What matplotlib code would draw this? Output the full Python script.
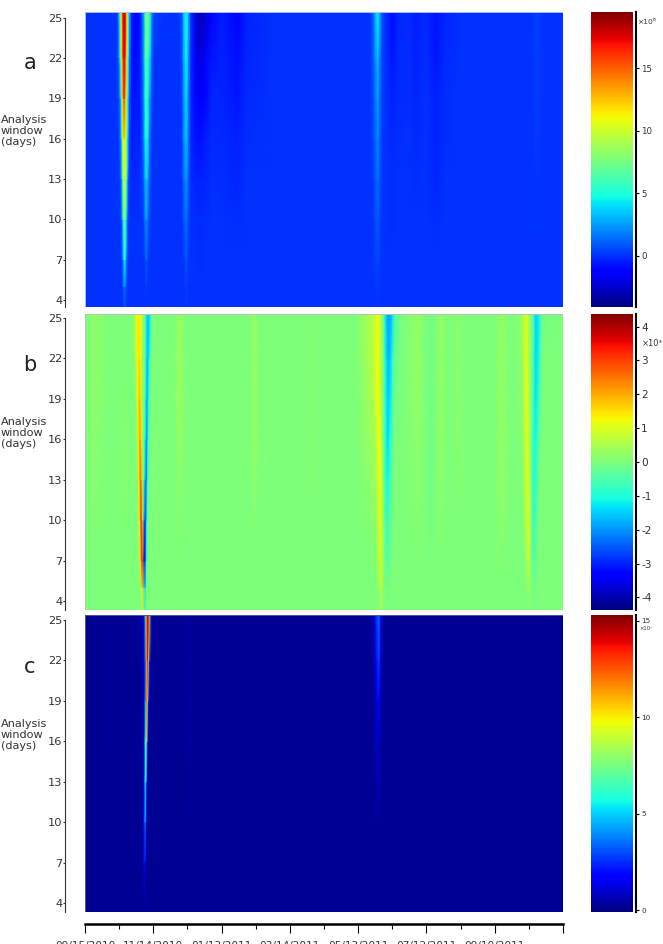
import matplotlib
matplotlib.use('Agg')
import matplotlib.pyplot as plt
import matplotlib.patches as mpatches
import numpy as np

W, H = 663, 944

# analysis window of each table row (outer values are the cell edges)
windows = [3.3, 5, 7, 10, 13, 16, 19, 22, 25.5]
window_ticks = [4, 7, 10, 13, 16, 19, 22, 25]

date_ticks = [0, 60, 120, 180, 240, 300, 360, 420]
date_minor = [30, 90, 150, 210, 270, 330, 390]
date_labels = ['09/15/2010', '11/14/2010', '01/13/2011', '03/14/2011',
               '05/13/2011', '07/12/2011', '09/10/2011', '']

# panel a, units of 1e6: days since 09/15/2010, then one value per window
a_days = [0, 26, 28, 29, 30, 31, 32, 33, 34, 35, 36, 37, 38, 39, 41, 44, 48, 51, 53, 54, 55, 57, 59, 61,
          70, 82, 85, 87, 89, 91, 93, 97, 101, 106, 111, 120, 134, 142, 165,
          250, 253, 255, 257, 259, 261, 264, 270, 275, 285, 290, 300, 308, 316, 330, 392, 397, 403, 420]
a_values = [
    [0, 0, 0, 0, 0, 0, 0, 0, 0],
    [0, 0, 0, 0, 0, 0, 0, 0, 0],
    [0, 0, 0, 0, 0, 0, 0, .1, .2],
    [0, 0, 0, 0, 0, .1, .2, .4, 1],
    [0, 0, 0, 0, .2, .4, .7, 2, 3.5],
    [0, 0, 0, .2, .7, 1.4, 2.5, 5, 7],
    [0, 0, .2, .8, 2, 3.8, 6, 10, 12],
    [0, .3, 1, 3, 6, 8.5, 12, 15, 15.5],
    [.2, 1, 3, 6.5, 9.5, 11, 15.5, 17, 17.5],
    [.5, 1.8, 5, 7, 10.5, 11.5, 16, 17.5, 18.5],
    [.2, 1, 3.5, 6, 9, 10, 12, 15, 16.5],
    [0, .3, 1.2, 2.5, 5, 6.5, 8, 10, 11.5],
    [0, 0, .2, .6, 1.5, 3, 4, 5.5, 7],
    [0, 0, 0, 0, .2, .6, 1, 2, 3],
    [0, 0, 0, -.1, -.3, -.5, -.5, -.5, -.4],
    [0, 0, 0, 0, -.2, -.5, -.7, -1, -1.2],
    [0, 0, 0, 0, -.1, -.3, -.5, -.6, -.8],
    [0, 0, 0, .1, .5, .9, 1.2, 1.5, 1.8],
    [0, .1, .5, 1.8, 3, 4.5, 5, 5.5, 6.5],
    [.1, .3, 1, 2.6, 3.7, 5.2, 5.5, 6.5, 8],
    [0, .1, .5, 1.8, 3, 4.6, 5.3, 6.3, 8],
    [0, 0, 0, .3, .8, 1.5, 2.5, 4, 6],
    [0, 0, 0, 0, 0, .1, .5, 1, 2],
    [0, 0, 0, 0, 0, 0, 0, .1, .4],
    [0, 0, 0, 0, 0, 0, 0, 0, 0],
    [0, 0, 0, 0, 0, 0, 0, 0, .1],
    [0, 0, 0, 0, .1, .2, .3, .5, .7],
    [0, 0, .2, .8, 1.4, 2.2, 2.4, 3, 3.5],
    [.1, .3, .8, 1.5, 2.4, 3.4, 4, 4.5, 5],
    [0, 0, .2, .6, 1, 1.6, 1.8, 2.5, 3],
    [0, 0, 0, 0, -.1, -.2, -.2, -.1, 0],
    [0, 0, 0, -.1, -.3, -.6, -1, -1.4, -2],
    [0, 0, -.1, -.2, -.4, -.8, -1.4, -2.2, -3],
    [0, 0, 0, -.1, -.3, -.5, -1, -1.5, -2.5],
    [0, 0, 0, 0, -.1, -.2, -.3, -.6, -1.2],
    [0, 0, 0, 0, -.1, -.2, -.3, -.4, -.5],
    [0, 0, 0, -.1, -.3, -.4, -.6, -.8, -1.2],
    [0, 0, 0, 0, 0, -.1, -.2, -.3, -.4],
    [0, 0, 0, 0, 0, 0, 0, 0, 0],
    [0, 0, 0, 0, 0, 0, 0, 0, 0],
    [0, 0, .05, .1, .2, .4, .5, .7, 1],
    [0, .1, .3, .6, .8, 1.2, 1.6, 2, 3],
    [.05, .2, .5, 1, 1.5, 2, 2.5, 3.2, 4.5],
    [0, .1, .3, .5, .8, 1.1, 1.5, 2, 3],
    [0, 0, 0, .1, .2, .3, .4, .5, .8],
    [0, 0, 0, 0, 0, 0, 0, 0, 0],
    [0, 0, 0, -.05, -.1, -.2, -.4, -.6, -.9],
    [0, 0, 0, 0, 0, -.1, -.2, -.2, -.3],
    [0, 0, 0, 0, 0, 0, -.1, -.1, -.2],
    [0, 0, 0, 0, -.1, -.2, -.3, -.4, -.5],
    [0, 0, 0, 0, 0, 0, 0, -.1, -.2],
    [0, 0, 0, -.1, -.3, -.4, -.4, -.6, -.7],
    [0, 0, 0, 0, 0, -.1, -.1, -.2, -.3],
    [0, 0, 0, 0, 0, 0, 0, 0, 0],
    [0, 0, 0, 0, 0, 0, 0, 0, 0],
    [0, 0, 0, .05, .1, .2, .3, .3, .4],
    [0, 0, 0, 0, 0, 0, 0, 0, 0],
    [0, 0, 0, 0, 0, 0, 0, 0, 0],
]

# panel b, units of 1e3
b_days = [0, 3, 7, 13, 20, 30, 33, 38, 43, 44, 45, 46, 47, 48, 49, 50, 51, 52, 53, 54, 55, 56, 57, 58, 59, 60,
          68, 78, 83, 88, 145, 149, 153, 193, 198, 203, 238, 244, 250, 254, 256, 258, 260, 262, 264, 266,
          268, 270, 272, 280, 293, 298, 304, 308, 313, 318, 323, 328, 334, 360, 366, 372, 378,
          384, 386, 388, 390, 392, 394, 396, 398, 400, 402, 420]
b_values = [
    [0, 0, 0, 0, 0, 0, 0, 0, 0],
    [0, 0, 0, 0, 0, 0, 0, 0, 0],
    [0, 0, .05, .1, .15, .2, .2, .2, .2],
    [0, 0, 0, .05, .1, .1, .15, .15, .15],
    [0, 0, 0, 0, 0, 0, 0, 0, 0],
    [0, 0, 0, 0, 0, 0, 0, 0, 0],
    [0, 0, 0, .1, .15, .15, .1, .05, 0],
    [0, 0, 0, 0, 0, 0, 0, 0, 0],
    [0, 0, 0, 0, 0, 0, 0, .1, .2],
    [0, 0, 0, 0, 0, 0, .1, .2, .6],
    [0, 0, 0, 0, 0, .1, .3, .7, 1.1],
    [0, 0, 0, .1, .2, .6, 1, 1.3, 1.3],
    [0, 0, .1, .3, .8, 1.5, 1.6, 1.5, 1.4],
    [0, 0, .4, 1.2, 2, 2, 1.8, 1.5, 1.4],
    [0, .2, 1.5, 2.8, 2.6, 2, 1.6, 1.3, 1.2],
    [.2, 1, 3.2, 3, 2, 1, .7, .6, .9],
    [.5, 1.8, 3, .8, .1, 0, 0, 0, .2],
    [.1, -.8, -3.4, -2.2, -.5, -.1, 0, 0, 0],
    [-.2, -1.4, -3, -2.8, -1.9, -1.2, -.6, -.3, -.3],
    [0, -.4, -.6, -1.5, -2.3, -2, -1.6, -1.3, -1.2],
    [0, 0, -.1, -.3, -.9, -1.5, -1.7, -1.6, -1.6],
    [0, 0, 0, -.1, -.2, -.5, -.9, -1.4, -1.6],
    [0, 0, 0, 0, 0, -.1, -.3, -.7, -1.4],
    [0, 0, 0, 0, 0, 0, -.1, -.2, -.8],
    [0, 0, 0, 0, 0, 0, 0, 0, -.2],
    [0, 0, 0, 0, 0, 0, 0, 0, 0],
    [0, 0, 0, 0, 0, 0, 0, 0, 0],
    [0, 0, 0, 0, 0, 0, 0, 0, 0],
    [0, 0, .05, .1, .2, .3, .35, .35, .35],
    [0, 0, 0, 0, 0, 0, 0, 0, 0],
    [0, 0, 0, 0, 0, 0, 0, 0, 0],
    [0, 0, 0, .1, .2, .25, .3, .3, .3],
    [0, 0, 0, 0, 0, 0, 0, 0, 0],
    [0, 0, 0, 0, 0, 0, 0, 0, 0],
    [0, 0, 0, .05, .1, .1, .1, .1, .1],
    [0, 0, 0, 0, 0, 0, 0, 0, 0],
    [0, 0, 0, 0, 0, 0, 0, 0, 0],
    [0, 0, 0, .05, .1, .2, .2, .25, .3],
    [0, 0, 0, .1, .2, .3, .4, .45, .5],
    [0, 0, .1, .2, .3, .4, .6, .8, .7],
    [0, .1, .2, .3, .5, .8, 1, 1, 1],
    [.05, .2, .5, .8, 1, 1.1, 1.2, 1.2, 1.2],
    [.2, .7, 1, 1.1, 1.1, .9, .7, .6, .6],
    [.1, .2, .3, .3, .2, .1, 0, 0, 0],
    [0, -.1, -.3, -.5, -.8, -.9, -1, -1.1, -1.3],
    [0, -.1, -.4, -.7, -1.1, -1.4, -1.5, -1.7, -1.9],
    [0, 0, -.2, -.4, -.7, -1, -1.3, -1.6, -1.9],
    [0, 0, -.05, -.1, -.2, -.4, -.7, -1, -1.4],
    [0, 0, 0, 0, 0, 0, -.1, -.2, -.5],
    [0, 0, 0, 0, 0, 0, 0, 0, 0],
    [0, 0, .05, .1, .15, .2, .25, .25, .25],
    [0, 0, 0, 0, 0, 0, 0, 0, 0],
    [0, 0, 0, -.1, -.15, -.1, -.1, -.1, -.1],
    [0, 0, 0, 0, 0, 0, 0, 0, 0],
    [0, 0, .05, .1, .2, .25, .25, .25, .25],
    [0, 0, 0, 0, 0, 0, 0, 0, 0],
    [0, 0, 0, 0, 0, 0, 0, 0, 0],
    [0, 0, 0, .05, .1, .15, .15, .15, .15],
    [0, 0, 0, 0, 0, 0, 0, 0, 0],
    [0, 0, 0, 0, 0, 0, 0, 0, 0],
    [0, 0, .1, .2, .25, .3, .3, .3, .3],
    [0, 0, 0, 0, 0, 0, 0, 0, 0],
    [0, 0, 0, 0, 0, 0, 0, 0, 0],
    [0, 0, 0, .05, .1, .1, .2, .2, .3],
    [0, 0, .1, .2, .3, .5, .7, .8, .8],
    [0, .1, .4, .7, 1, 1.1, 1.1, 1.1, 1],
    [.05, .3, .8, 1, .9, .7, .6, .5, .5],
    [0, .1, .1, .1, 0, 0, 0, 0, 0],
    [0, -.1, -.5, -.8, -1, -.9, -.7, -.6, -.5],
    [0, -.05, -.3, -.5, -.8, -1.1, -1.3, -1.4, -1.4],
    [0, 0, 0, -.1, -.3, -.6, -.9, -1.2, -1.3],
    [0, 0, 0, 0, 0, -.1, -.3, -.5, -.8],
    [0, 0, 0, 0, 0, 0, 0, 0, -.1],
    [0, 0, 0, 0, 0, 0, 0, 0, 0],
]

# panel c, units of 1e7
c_days = [0, 15, 20, 25, 49, 50, 51, 52, 53, 54, 55, 56, 57, 58, 59, 60, 87, 92, 97,
          251, 254, 256, 258, 260, 263, 420]
c_values = [
    [.2, .2, .2, .2, .2, .2, .2, .2, .2],
    [.2, .2, .2, .2, .2, .2, .2, .2, .2],
    [.2, .2, .2, .2, .25, .3, .3, .3, .3],
    [.2, .2, .2, .2, .2, .2, .2, .2, .2],
    [.2, .2, .2, .2, .2, .2, .2, .2, .3],
    [.2, .2, .2, .2, .2, .2, .3, .3, .4],
    [.2, .2, .25, .3, .4, .5, .6, .8, 1],
    [.3, .7, 1.5, 2.5, 1.5, .8, .8, 1.2, 2],
    [.25, .5, 1, 4, 6, 6, 4, 3, 7],
    [.2, .25, .3, 1, 3.5, 9, 12.5, 11, 12],
    [.2, .2, .2, .3, .6, 3, 10, 14, 14],
    [.2, .2, .2, .2, .3, .6, 2, 9, 14.5],
    [.2, .2, .2, .2, .2, .3, .6, 2, 10],
    [.2, .2, .2, .2, .2, .2, .3, .5, 3],
    [.2, .2, .2, .2, .2, .2, .2, .3, .5],
    [.2, .2, .2, .2, .2, .2, .2, .2, .2],
    [.2, .2, .2, .2, .2, .2, .2, .2, .2],
    [.2, .2, .2, .25, .3, .35, .35, .35, .35],
    [.2, .2, .2, .2, .2, .2, .2, .2, .2],
    [.2, .2, .2, .2, .2, .2, .2, .2, .2],
    [.2, .2, .2, .2, .25, .3, .4, .5, .7],
    [.2, .2, .2, .3, .5, .7, 1, 1.6, 2.5],
    [.2, .2, .2, .35, .6, .9, 1.5, 2.8, 3.5],
    [.2, .2, .2, .2, .3, .4, .6, .8, 1.2],
    [.2, .2, .2, .2, .2, .2, .2, .2, .2],
    [.2, .2, .2, .2, .2, .2, .2, .2, .2],
]


def px_axes(x0, y0, x1, y1):
    return fig.add_axes([x0 / W, 1 - y1 / H, (x1 - x0) / W, (y1 - y0) / H])


def draw_panel(top, bottom, days, values, vmin, vmax, ylim, edge, letter, letter_y, label_y):
    ax = px_axes(85, top, 563, bottom)
    mesh = ax.pcolormesh(days, windows, np.array(values).T, cmap='jet', vmin=vmin, vmax=vmax,
                         shading='gouraud', rasterized=True)
    ax.set_xlim(0, 420)
    ax.set_ylim(ylim)
    ax.set_yticks(window_ticks)
    ax.tick_params(axis='y', length=1.5, width=0.8, pad=0.5, labelsize=8.2, color='#333333', labelcolor='#333333')
    for name in ['top', 'right', 'bottom']:
        ax.spines[name].set_visible(False)
    ax.spines['left'].set_position(('outward', 14.4))
    ax.spines['left'].set_bounds(ylim[0], 25)
    ax.spines['left'].set_color('#333333')
    ax.spines['left'].set_linewidth(0.8)
    ax.set_xticks([])
    ax.add_patch(mpatches.Rectangle((0, 0), 1, 1, transform=ax.transAxes, fill=False, ec=edge, lw=0.7))
    fig.text(30 / W, 1 - letter_y / H, letter, fontsize=15, ha='center', va='center', color='#222222')
    fig.text(1 / W, 1 - label_y / H, 'Analysis\nwindow\n(days)', fontsize=8.1, ha='left', va='center',
             linespacing=1.1, color='#333333')
    return ax, mesh


def draw_colorbar(mesh, top, bottom, ticks, labels, size):
    cax = px_axes(591, top, 633, bottom)
    cb = fig.colorbar(mesh, cax=cax)
    cb.outline.set_visible(False)
    cb.set_ticks(ticks, labels=labels)
    cax.tick_params(axis='y', length=2.5, width=0.8, pad=1, labelsize=size, color='black', labelcolor='#333333')
    cax.spines['right'].set_visible(True)
    cax.spines['right'].set_position(('outward', 2.4))
    cax.spines['right'].set_linewidth(1.5)
    return cax


fig = plt.figure(figsize=(W / 100, H / 100), dpi=100)

ax_a, mesh_a = draw_panel(12, 307, a_days, a_values, -4.1, 19.5, (3.48, 25.41), '#a8c0ff', 'a', 63, 131)
ax_b, mesh_b = draw_panel(314, 610, b_days, b_values, -4.37, 4.37, (3.33, 25.3), '#b0c8b0', 'b', 365, 433)
ax_c, mesh_c = draw_panel(615, 912, c_days, c_values, -0.1, 15.3, (3.33, 25.37), '#55558f', 'c', 667, 735)

draw_colorbar(mesh_a, 12, 307, [0, 5, 10, 15], ['0', '5', '10', '15'], 6.2)
draw_colorbar(mesh_b, 314, 610, [-4, -3, -2, -1, 0, 1, 2, 3, 4],
              ['-4', '-3', '-2', '-1', '0', '1', '2', '3', '4'], 7.6)
draw_colorbar(mesh_c, 615, 912, [0, 5, 10, 15], ['0', '5', '10', '15'], 5.2)

fig.text(638 / W, 1 - 22 / H, '×10⁶', fontsize=5.4, va='center', color='#333333')
fig.text(642 / W, 1 - 344 / H, '×10³', fontsize=6, va='center', color='#333333')
fig.text(639 / W, 1 - 629 / H, '×10⁷', fontsize=3.8, va='center', color='#333333')

# shared date axis sits under the last panel, the labels run off the page bottom
ax_c.spines['bottom'].set_visible(True)
ax_c.spines['bottom'].set_position(('outward', 8.6))
ax_c.spines['bottom'].set_linewidth(1.8)
ax_c.set_xticks(date_ticks, labels=date_labels)
ax_c.set_xticks(date_minor, minor=True)
ax_c.tick_params(axis='x', which='major', length=6.5, width=0.8, pad=5.5, labelsize=7.6, labelcolor='#333333')
ax_c.tick_params(axis='x', which='minor', length=3.5, width=0.8)

fig.savefig('out.png', dpi=100)
